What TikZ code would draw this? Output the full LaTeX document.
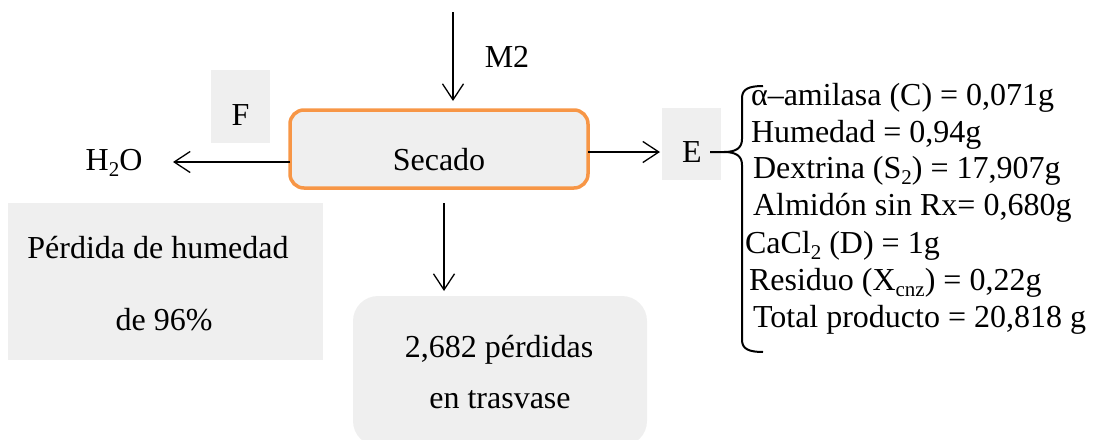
\documentclass[tikz,border=0pt]{standalone}
\usepackage{fontspec}
\setmainfont{Liberation Serif}
\usetikzlibrary{arrows.meta,calc}
\definecolor{boxgray}{RGB}{239,239,239}
\definecolor{secorange}{RGB}{247,150,70}
\newcommand{\lowsub}[1]{\raisebox{-0.2em}{\fontsize{21}{21}\selectfont #1}}
\begin{document}
\begin{tikzpicture}[x=1pt,y=-1pt,
  every node/.style={inner sep=0pt, outer sep=0pt, font=\fontsize{32}{38}\selectfont},
  graybox/.style={fill=boxgray, draw=none},
  arr/.style={line width=1.3pt, -{Straight Barb[length=16pt,width=21pt]}},
  lbl/.style={anchor=base},
  item/.style={anchor=base west}]
\useasboundingbox (0,0) rectangle (1097,439);
\clip (0,0) rectangle (1097,439);

% boxes
\node[graybox, minimum width=59pt, minimum height=73pt] (fbox) at (240.5,106.5) {};
\node[graybox, minimum width=315pt, minimum height=157pt] (perdbox) at (165.5,281.5) {};
\node[graybox, minimum width=59pt, minimum height=72pt] (ebox) at (691.5,144) {};
\node[graybox, rounded corners=25pt, minimum width=294pt, minimum height=150pt] (trasbox) at (500,371) {};
\node[fill=boxgray, draw=secorange, line width=3.5pt, rounded corners=14pt,
      minimum width=298pt, minimum height=78pt] (secado) at (439,149) {};

% texts
\node[lbl] (secadotxt) at (439,170) {Secado};
\node[lbl] (m2) at (507,67) {M2};
\node[lbl] (f) at (240.5,125) {F};
\node[lbl] (h2o) at (114,170) {H\lowsub{2}O};
\node[lbl] (e) at (692,162) {E};
\node[lbl] (perd1) at (158,258) {Pérdida de humedad};
\node[lbl] (perd2) at (164,330) {de 96\%};
\node[lbl] (tras1) at (499,357) {2,682 pérdidas};
\node[lbl] (tras2) at (500,408) {en trasvase};

\node[item] (it1) at (751,105) {α–amilasa (C) = 0,071g};
\node[item] (it2) at (751,142) {Humedad = 0,94g};
\node[item] (it3) at (753,178) {Dextrina (S\lowsub{2}) = 17,907g};
\node[item] (it4) at (753,215) {Almidón sin Rx= 0,680g};
\node[item] (it5) at (745,253) {CaCl\lowsub{2} (D) = 1g};
\node[item] (it6) at (749,290) {Residuo (X\lowsub{cnz}) = 0,22g};
\node[item] (it7) at (753,327) {Total producto = 20,818 g};

% connectors
\coordinate (m2start) at (453,12);
\coordinate (m2tip) at (453,101);
\draw[arr] (m2start) -- (m2tip);

\coordinate (h2otip) at (173,162);
\draw[arr] (secado.west |- h2otip) -- (h2otip);

\coordinate (etip) at (660,152);
\draw[arr] (secado.east |- etip) -- (etip);

\coordinate (downstart) at (444,203);
\coordinate (downtip) at (444,291);
\draw[arr] (downstart) -- (downtip);

% brace
\draw[line width=2pt]
  (763,86) .. controls (749,86) and (742,89) .. (742,98)
  -- (742,139) .. controls (742,148) and (736,152) .. (724,152) -- (710,152);
\draw[line width=2pt]
  (724,152) .. controls (736,152) and (742,156) .. (742,165)
  -- (742,340) .. controls (742,349) and (749,352) .. (763,352);
\end{tikzpicture}
\end{document}
